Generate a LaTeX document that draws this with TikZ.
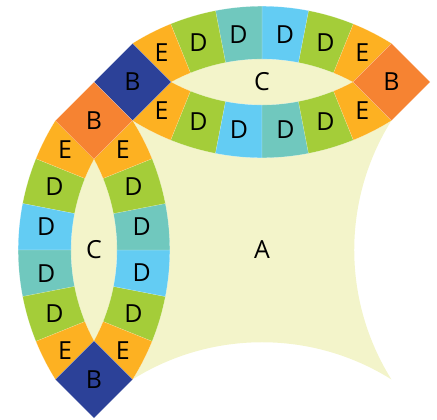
\documentclass[tikz,border=0pt]{standalone}
\usepackage{fontspec}
\setmainfont{Open Sans}
\definecolor{paleA}{HTML}{F3F4CA}
\definecolor{ambE}{HTML}{FDB122}
\definecolor{grnD}{HTML}{A4CD39}
\definecolor{tealD}{HTML}{70C8BE}
\definecolor{skyD}{HTML}{63CCF3}
\definecolor{orgB}{HTML}{F68332}
\definecolor{navyB}{HTML}{2C4198}
\tikzset{
  piece/.style={draw=white, draw opacity=0.5, line width=0.15pt},
  lbl/.style={text=black, inner sep=0pt, font=\fontsize{25}{27}\selectfont},
}
\begin{document}
\begin{tikzpicture}[x=1bp,y=1bp]
  \useasboundingbox (-262,-169) rectangle (175,250);

  % large centre patch
  \fill[paleA] (-129.45,129.45)
    arc[start angle=237.93, end angle=302.07, radius=243.8bp]
    arc[start angle=147.93, end angle=212.07, radius=243.8bp]
    arc[start angle=57.93, end angle=122.07, radius=243.8bp]
    arc[start angle=-32.07, end angle=32.07, radius=243.8bp] -- cycle;
  \node[lbl] (patchA) at (0,0) {A};

  % the two lens patches
  \foreach \rot/\nm in {0/top,90/left} {
    \begin{scope}[rotate=\rot]
      \fill[paleA] (-90.9,168)
        arc[start angle=118.41, end angle=61.59, radius=191bp]
        arc[start angle=-61.59, end angle=-118.41, radius=191bp] -- cycle;
    \end{scope}
  }
  \node[lbl] (lensT) at (0,168) {C};
  \node[lbl] (lensL) at (-168,0) {C};

  % four ring bands, same band turned about its own centre
  \foreach \cx/\cy/\rot/\nm in {0/0/0/a, 0/336/180/b, 0/0/90/c, -336/0/-90/d} {
    \begin{scope}[shift={(\cx,\cy)}, rotate=\rot]
      \foreach \sa/\sb/\col in {68/79/grnD, 79/90/skyD, 90/101/tealD, 101/112/grnD} {
        \filldraw[piece, fill=\col] (\sa:191)
          arc[start angle=\sa, end angle=\sb, radius=191bp]
          -- (\sb:243.8)
          arc[start angle=\sb, end angle=\sa, radius=243.8bp] -- cycle;
      }
      \filldraw[piece, fill=ambE] (112:191)
        arc[start angle=112, end angle=118.41, radius=191bp]
        -- (122.07:243.8)
        arc[start angle=122.07, end angle=112, radius=243.8bp] -- cycle;
      \filldraw[piece, fill=ambE] (68:191)
        arc[start angle=68, end angle=61.59, radius=191bp]
        -- (57.93:243.8)
        arc[start angle=57.93, end angle=68, radius=243.8bp] -- cycle;
      \node[lbl] (\nm1) at (117:221) {E};
      \node[lbl] (\nm2) at (107:217) {D};
      \node[lbl] (\nm3) at (96.2:217) {D};
      \node[lbl] (\nm4) at (83.9:217) {D};
      \node[lbl] (\nm5) at (73:217) {D};
      \node[lbl] (\nm6) at (63:221) {E};
    \end{scope}
  }

  % corner squares
  \foreach \x/\y/\col/\nm in {-129.45/168/navyB/sqA, -168/129.45/orgB/sqB, -168/-129.45/navyB/sqC, 129.45/168/orgB/sqD} {
    \filldraw[piece, fill=\col] (\x-38.55,\y) -- (\x,\y+38.55) -- (\x+38.55,\y) -- (\x,\y-38.55) -- cycle;
    \node[lbl] (\nm) at (\x,\y) {B};
  }
\end{tikzpicture}
\end{document}
